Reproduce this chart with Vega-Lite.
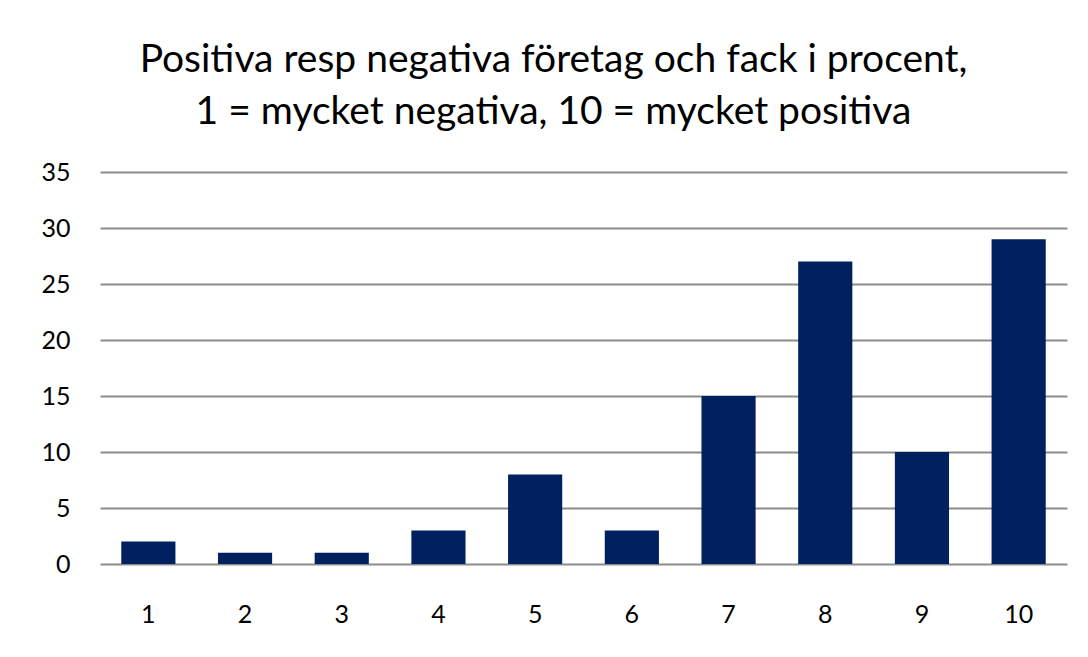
{
  "$schema": "https://vega.github.io/schema/vega-lite/v6.json",
  "autosize": {"type": "none"},
  "width": 967,
  "height": 392,
  "padding": {"left": 100, "top": 172, "right": 21, "bottom": 93},
  "background": "white",
  "title": {
    "text": ["Positiva resp negativa företag och fack i procent,", "1 = mycket negativa, 10 = mycket positiva"],
    "font": "Lato",
    "fontSize": 39,
    "fontWeight": "normal",
    "color": "#000000",
    "lineHeight": 52,
    "anchor": "middle",
    "dx": -30,
    "offset": 28
  },
  "data": {
    "values": [
      {"betyg": "1", "procent": 2},
      {"betyg": "2", "procent": 1},
      {"betyg": "3", "procent": 1},
      {"betyg": "4", "procent": 3},
      {"betyg": "5", "procent": 8},
      {"betyg": "6", "procent": 3},
      {"betyg": "7", "procent": 15},
      {"betyg": "8", "procent": 27},
      {"betyg": "9", "procent": 10},
      {"betyg": "10", "procent": 29}
    ]
  },
  "mark": {"type": "bar", "color": "#002060"},
  "encoding": {
    "x": {
      "field": "betyg",
      "type": "ordinal",
      "sort": null,
      "scale": {"paddingInner": 0.44, "paddingOuter": 0.22},
      "axis": {
        "title": null,
        "labelAngle": 0,
        "labelFont": "Lato",
        "labelFontSize": 25,
        "labelColor": "#000000",
        "labelPadding": 38,
        "ticks": false,
        "domain": false,
        "grid": false
      }
    },
    "y": {
      "field": "procent",
      "type": "quantitative",
      "scale": {"domain": [0, 35], "nice": false},
      "axis": {
        "title": null,
        "values": [0, 5, 10, 15, 20, 25, 30, 35],
        "labelFont": "Lato",
        "labelFontSize": 25,
        "labelColor": "#000000",
        "labelPadding": 30,
        "ticks": false,
        "domain": false,
        "grid": true,
        "gridColor": "#8c8c8c",
        "gridWidth": 2,
        "gridOpacity": 1
      }
    }
  },
  "config": {"view": {"stroke": null}}
}
